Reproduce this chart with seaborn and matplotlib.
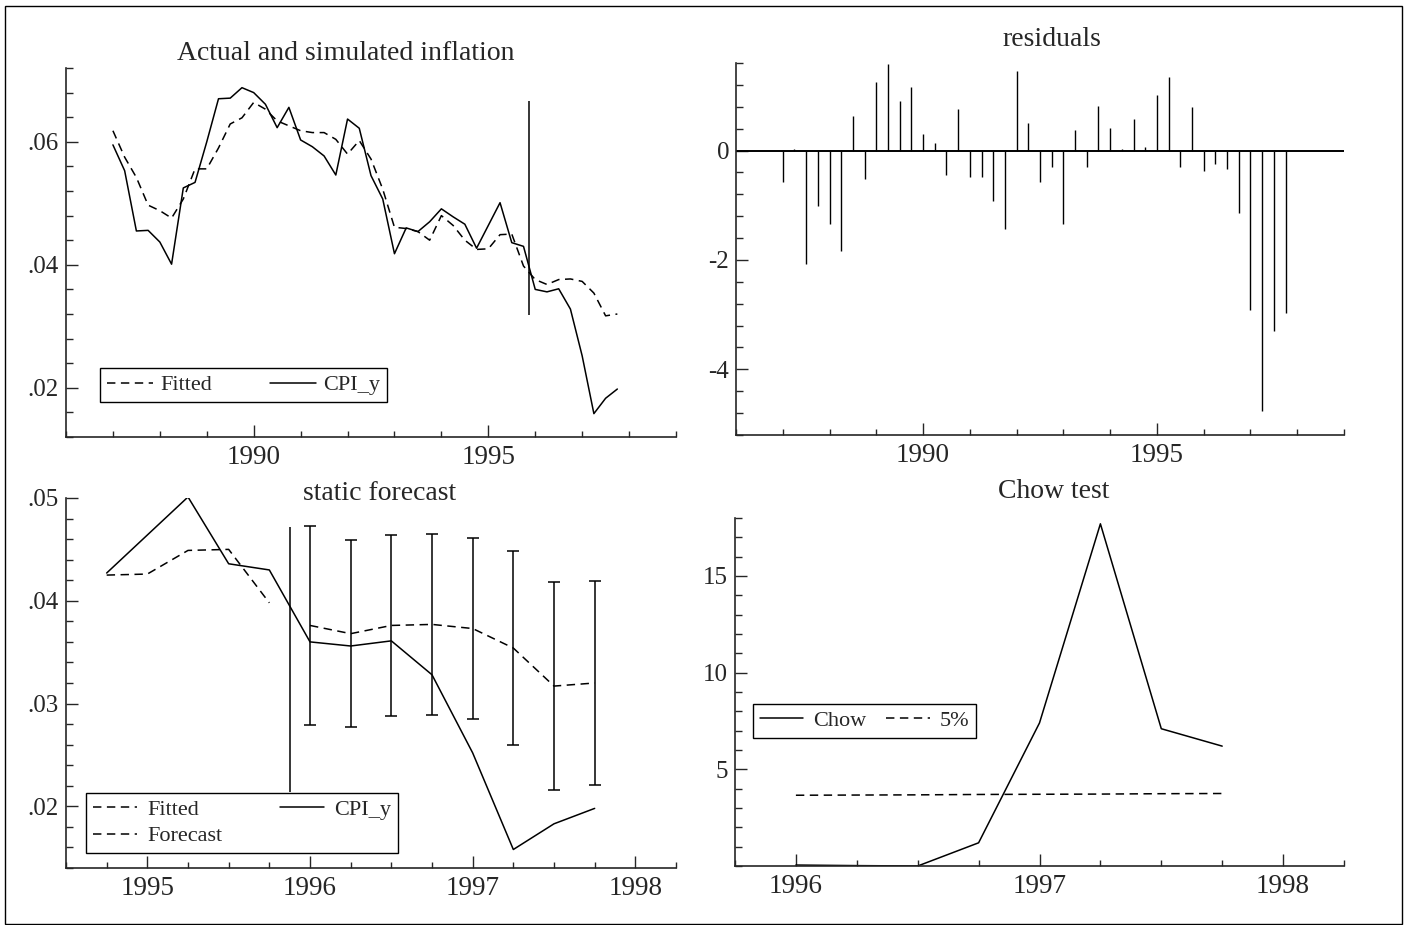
import numpy as np
import pandas as pd
import seaborn as sns
import matplotlib.pyplot as plt
from matplotlib.ticker import MultipleLocator, FixedLocator, FuncFormatter
from matplotlib.lines import Line2D
from matplotlib.patches import Rectangle

# Quarterly sample 1987Q1 - 1997Q4
periods = pd.period_range("1987Q1", "1997Q4", freq="Q")
dates = np.array([p.year + (p.quarter - 1) / 4 for p in periods])

# Actual inflation (CPI_y)
cpi = [0.0595, 0.0553, 0.0455, 0.0456, 0.0437, 0.0401, 0.0525, 0.0534,
       0.0600, 0.0670, 0.0671, 0.0688, 0.0680, 0.0661, 0.0623, 0.0656,
       0.0603, 0.0592, 0.0577, 0.0546, 0.0637, 0.0622, 0.0545, 0.0507,
       0.0418, 0.0460, 0.0454, 0.0470, 0.0491, 0.0478, 0.0466, 0.0427,
       0.0464, 0.0501, 0.0436, 0.0430, 0.0360, 0.0356, 0.0361, 0.0328,
       0.0252, 0.0158, 0.0183, 0.0198]

# Fitted / simulated (last 8 quarters are the static forecasts)
fitted = [0.0618, 0.0575, 0.0542, 0.0497, 0.0488, 0.0476, 0.0507, 0.0556,
          0.0556, 0.0590, 0.0629, 0.0639, 0.0664, 0.0653, 0.0634, 0.0626,
          0.0618, 0.0615, 0.0615, 0.0604, 0.0580, 0.0602, 0.0572, 0.0523,
          0.0461, 0.0459, 0.0454, 0.0440, 0.0480, 0.0464, 0.0440, 0.0425,
          0.0426, 0.0449, 0.0450, 0.0398, 0.0376, 0.0368, 0.0376, 0.0377,
          0.0373, 0.0354, 0.0317, 0.0320]

# Scaled residuals
residuals = [-0.57, 0.02, -2.07, -1.02, -1.35, -1.83, 0.63, -0.52,
             1.25, 1.58, 0.90, 1.17, 0.31, 0.13, -0.44, 0.76,
             -0.48, -0.48, -0.92, -1.43, 1.45, 0.50, -0.58, -0.30,
             -1.35, 0.38, -0.30, 0.82, 0.41, 0.03, 0.58, 0.06,
             1.02, 1.34, -0.30, 0.80, -0.38, -0.25, -0.33, -1.15,
             -2.91, -4.77, -3.30, -2.97]

# Static forecast: +/- 2 s.e. half widths for 1996Q1 - 1997Q4
forecast_band = [0.0097, 0.0091, 0.0088, 0.0088, 0.0088, 0.0094, 0.0101, 0.0099]

# Chow test and 5% critical value, 1996Q1 - 1997Q4
chow = [0.05, 0.02, 0.0, 1.2, 7.4, 17.7, 7.1, 6.2]
chow_5pct = [3.66, 3.67, 3.68, 3.70, 3.71, 3.72, 3.74, 3.75]

forecast_start = 1995.875
break_line_top = [0.0318, 0.0666]
break_line_bottom = [0.0214, 0.0472]

n_fc = len(forecast_band)
sf_start = 31  # 1994Q4
sf_dates = dates[sf_start:]
fit_dates = dates[sf_start:-n_fc]
fc_dates = dates[-n_fc:]

# Style
sns.set_theme(style="ticks", rc={
    "lines.dashed_pattern": (5.5, 3.6),
    "axes.linewidth": 1.2,
    "xtick.direction": "in",
    "ytick.direction": "in",
})
plt.rcParams["font.family"] = ["Liberation Serif", "DejaVu Serif"]

W, H = 1405, 925
fig = plt.figure(figsize=(W / 100, H / 100), dpi=100)


def px_axes(left, top, right, bottom):
    return fig.add_axes([left / W, 1 - bottom / H, (right - left) / W, (bottom - top) / H])


ax_tl = px_axes(66, 68, 676, 437)
ax_tr = px_axes(736, 63, 1344, 435)
ax_bl = px_axes(66, 498, 676, 868)
ax_br = px_axes(735, 518, 1344, 866)

LW = 1.1
legend_kw = dict(fontsize=16, frameon=True, fancybox=False, framealpha=1,
                 edgecolor="black", borderaxespad=0, loc="lower left")

# --- Actual and simulated inflation
sns.lineplot(x=dates, y=fitted, ax=ax_tl, color="black", lw=LW, linestyle="--",
             estimator=None, sort=False)
sns.lineplot(x=dates, y=cpi, ax=ax_tl, color="black", lw=LW,
             estimator=None, sort=False)
ax_tl.vlines(forecast_start, *break_line_top, color="black", lw=LW)
ax_tl.set_xlim(1986, 1999)
ax_tl.set_ylim(0.012, 0.072)
h = [Line2D([], [], color="black", lw=LW, ls="--"), Line2D([], [], color="black", lw=LW)]
leg = ax_tl.legend(h, ["Fitted", "CPI_y"], ncol=2, bbox_to_anchor=(0.0557, 0.0949),
                   handlelength=2.1, handletextpad=0.3, columnspacing=2.6,
                   borderpad=0.3, **legend_kw)
leg.get_frame().set_linewidth(1.0)

# --- residuals
ax_tr.vlines(dates, 0, residuals, color="black", lw=1.0)
ax_tr.axhline(0, color="black", lw=1.4)
ax_tr.set_xlim(1986, 1999)
ax_tr.set_ylim(-5.2, 1.6)

# --- static forecast
sns.lineplot(x=fit_dates, y=fitted[sf_start:-n_fc], ax=ax_bl, color="black", lw=LW,
             linestyle="--", estimator=None, sort=False)
sns.lineplot(x=fc_dates, y=fitted[-n_fc:], ax=ax_bl, color="black", lw=LW,
             linestyle="--", estimator=None, sort=False)
sns.lineplot(x=sf_dates, y=cpi[sf_start:], ax=ax_bl, color="black", lw=LW,
             estimator=None, sort=False)
ax_bl.errorbar(fc_dates, fitted[-n_fc:], yerr=forecast_band, fmt="none", ecolor="black",
               elinewidth=LW, capsize=4, capthick=LW)
ax_bl.vlines(forecast_start, *break_line_bottom, color="black", lw=LW)
ax_bl.set_xlim(1994.5, 1998.25)
ax_bl.set_ylim(0.014, 0.05)
h = [Line2D([], [], color="black", lw=LW, ls="--"),
     Line2D([], [], color="black", lw=LW, ls="--"),
     Line2D([], [], color="black", lw=LW)]
leg = ax_bl.legend(h, ["Fitted", "Forecast", "CPI_y"], ncol=2,
                   bbox_to_anchor=(0.0328, 0.0405), handlelength=2.0,
                   handletextpad=0.45, columnspacing=2.6, borderpad=0.3,
                   labelspacing=0.25, **legend_kw)
leg.get_frame().set_linewidth(1.0)
leg.set_zorder(5)

# --- Chow test
sns.lineplot(x=fc_dates, y=chow, ax=ax_br, color="black", lw=LW, estimator=None, sort=False)
sns.lineplot(x=fc_dates, y=chow_5pct, ax=ax_br, color="black", lw=LW, linestyle="--",
             estimator=None, sort=False)
ax_br.set_xlim(1995.75, 1998.25)
ax_br.set_ylim(0, 18)
h = [Line2D([], [], color="black", lw=LW), Line2D([], [], color="black", lw=LW, ls="--")]
leg = ax_br.legend(h, ["Chow", "5%"], ncol=2, bbox_to_anchor=(0.0296, 0.368),
                   handlelength=1.95, handletextpad=0.45, columnspacing=0.9,
                   borderpad=0.3, **legend_kw)
leg.get_frame().set_linewidth(1.0)

# --- ticks
dec = FuncFormatter(lambda v, p: f"{v:.2f}".replace("0.", ".", 1))
year = FuncFormatter(lambda v, p: f"{int(round(v))}")
plain = FuncFormatter(lambda v, p: f"{int(round(v))}")

ax_tl.xaxis.set_major_locator(FixedLocator([1990, 1995]))
ax_tl.xaxis.set_minor_locator(MultipleLocator(1))
ax_tl.yaxis.set_major_locator(MultipleLocator(0.02))
ax_tl.yaxis.set_minor_locator(MultipleLocator(0.004))
ax_tl.yaxis.set_major_formatter(dec)

ax_tr.xaxis.set_major_locator(FixedLocator([1990, 1995]))
ax_tr.xaxis.set_minor_locator(MultipleLocator(1))
ax_tr.yaxis.set_major_locator(MultipleLocator(2))
ax_tr.yaxis.set_minor_locator(MultipleLocator(0.4))
ax_tr.yaxis.set_major_formatter(plain)

ax_bl.xaxis.set_major_locator(MultipleLocator(1))
ax_bl.xaxis.set_minor_locator(MultipleLocator(0.25))
ax_bl.yaxis.set_major_locator(MultipleLocator(0.01))
ax_bl.yaxis.set_minor_locator(MultipleLocator(0.002))
ax_bl.yaxis.set_major_formatter(dec)

ax_br.xaxis.set_major_locator(MultipleLocator(1))
ax_br.xaxis.set_minor_locator(MultipleLocator(0.25))
ax_br.yaxis.set_major_locator(FixedLocator([5, 10, 15]))
ax_br.yaxis.set_minor_locator(MultipleLocator(1))
ax_br.yaxis.set_major_formatter(plain)

for ax in [ax_tl, ax_tr, ax_bl, ax_br]:
    sns.despine(ax=ax)
    ax.xaxis.set_major_formatter(year)
    ax.tick_params(axis="x", which="major", length=8.5, width=1, labelsize=19.5, pad=6)
    ax.tick_params(axis="x", which="minor", length=4, width=1)
    ax.tick_params(axis="y", which="major", length=8.5, width=1, labelsize=18, pad=5)
    ax.tick_params(axis="y", which="minor", length=5, width=1)
    ax.set_xlabel("")
    ax.set_ylabel("")

# titles
for txt, x, y in [("Actual and simulated inflation", 346, 53), ("residuals", 1052, 40),
                  ("static forecast", 380, 494), ("Chow test", 1054, 492)]:
    fig.text(x / W, 1 - y / H, txt, ha="center", va="center", fontsize=20)

fig.patches.append(Rectangle((5 / W, 1 / H), (1402 - 5) / W, (924 - 6) / H,
                             transform=fig.transFigure, fill=False, lw=1.0,
                             edgecolor="black"))

fig.savefig("out.png", dpi=100)
